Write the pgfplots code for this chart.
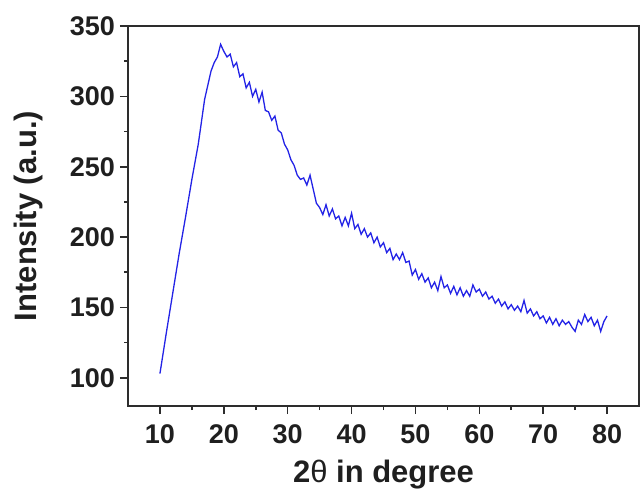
\documentclass[border=0pt]{standalone}
\usepackage{pgfplots}
\pgfplotsset{compat=1.18}
\usepackage{fontspec}
\setmainfont{Liberation Sans}
\definecolor{xrdblue}{RGB}{35,35,230}
\definecolor{axisgray}{RGB}{45,45,45}
\begin{document}
\begin{tikzpicture}
\begin{axis}[
    scale only axis,
    width=511pt, height=380pt,
    xmin=5, xmax=85,
    ymin=80, ymax=350,
    xtick={10,20,...,80},
    ytick={100,150,...,350},
    minor x tick num=1,
    minor y tick num=1,
    xtick pos=bottom, ytick pos=left,
    tick align=outside,
    major tick length=8pt,
    minor tick length=4pt,
    every tick/.style={axisgray, line width=1.6pt},
    axis line style={axisgray, line width=2pt},
    /pgf/number format/assume math mode=true,
    ticklabel style={font=\fontsize{27}{27}\selectfont\bfseries, text=black!88},
    yticklabel style={inner sep=0pt, xshift=-5pt},
    xticklabel style={inner sep=0pt, yshift=-10pt},
    xlabel={2\textmd{θ} in degree},
    ylabel={Intensity (a.u.)},
    label style={font=\fontsize{31}{31}\selectfont\bfseries, text=black!88},
    xlabel style={at={(axis description cs:0.5,-0.2)}, anchor=base},
    ylabel style={at={(axis description cs:-0.194,0.5)}, anchor=center},
]
\addplot[color=xrdblue, line width=1.3pt] coordinates {
(10,103)(11,132)(12,160)(13,188)(14,214)(15,241)(16,266)(17,298)
(17.5,308)(18,318)(18.5,324)(19,328)(19.5,337)(20,332)(20.5,328)
(21,330)(21.5,321)(22,324)(22.5,314)(23,316)(23.5,306)(24,310)
(24.5,300)(25,305)(25.5,296)(26,303)(26.5,290)(27,289)(27.5,283)
(28,286)(28.5,276)(29,274)(29.5,266)(30,262)(30.5,255)(31,251)
(31.5,244)(32,241)(32.5,242)(33,237)(33.5,244)(34,234)(34.5,224)
(35,221)(35.5,216)(36,223)(36.5,215)(37,220)(37.5,213)(38,215)
(38.5,208)(39,214)(39.5,208)(40,217)(40.5,206)(41,209)(41.5,202)
(42,206)(42.5,200)(43,203)(43.5,196)(44,200)(44.5,193)(45,196)
(45.5,189)(46,192)(46.5,184)(47,188)(47.5,184)(48,189)(48.5,182)
(49,183)(49.5,173)(50,177)(50.5,170)(51,174)(51.5,168)(52,171)
(52.5,164)(53,168)(53.5,162)(54,172)(54.5,164)(55,166)(55.5,160)
(56,165)(56.5,159)(57,164)(57.5,158)(58,162)(58.5,158)(59,166)
(59.5,161)(60,163)(60.5,158)(61,161)(61.5,156)(62,158)(62.5,153)
(63,156)(63.5,151)(64,154)(64.5,149)(65,152)(65.5,148)(66,151)
(66.5,147)(67,155)(67.5,146)(68,149)(68.5,144)(69,147)(69.5,142)
(70,144)(70.5,139)(71,143)(71.5,138)(72,142)(72.5,137)(73,141)
(73.5,138)(74,140)(74.5,136)(75,133)(75.5,141)(76,138)(76.5,145)
(77,140)(77.5,143)(78,137)(78.5,141)(79,133)(79.5,140)(80,144)
};
\end{axis}
\path (current axis.south west) ++(-128pt,-81pt) rectangle (current axis.north east) ++(2pt,26pt);
\end{tikzpicture}
\end{document}
